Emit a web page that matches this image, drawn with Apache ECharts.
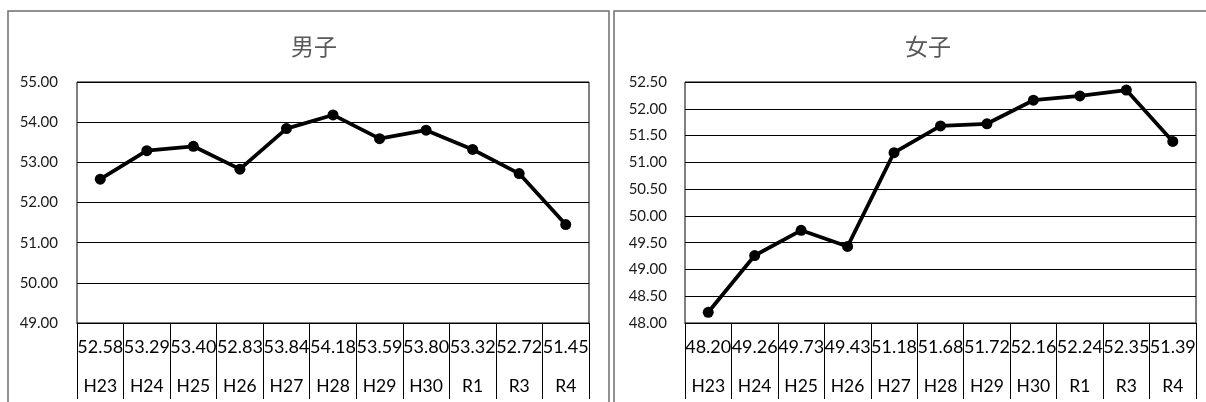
<!DOCTYPE html>
<html>
<head>
<meta charset="utf-8">
<script src="https://cdn.jsdelivr.net/npm/echarts@6/dist/echarts.min.js"></script>
<style>
html,body{margin:0;padding:0;background:#fff;}
#c{width:1206px;height:402px;}
</style>
</head>
<body>
<div id="c"></div>
<script>
// ---- data ----
const categories = ['H23','H24','H25','H26','H27','H28','H29','H30','R1','R3','R4'];
const boysValues = [52.58, 53.29, 53.40, 52.83, 53.84, 54.18, 53.59, 53.80, 53.32, 52.72, 51.45];
const girlsValues = [48.20, 49.26, 49.73, 49.43, 51.18, 51.68, 51.72, 52.16, 52.24, 52.35, 51.39];
const boysTitle = '男子';
const girlsTitle = '女子';
const boysAxis = {min: 49, max: 55, interval: 1};
const girlsAxis = {min: 48, max: 52.5, interval: 0.5};

const LAT = 'Lato, "Liberation Sans", sans-serif';
const CJK = '"Noto Sans CJK JP", "Noto Sans CJK SC", sans-serif';

function xAxisFor(gridIndex, values) {
  return {
    type: 'category',
    gridIndex: gridIndex,
    data: categories,
    boundaryGap: true,
    axisLine: {show: true, lineStyle: {color: '#000', width: 1}},
    axisTick: {show: true, interval: 0, length: 76, lineStyle: {color: '#000', width: 1}},
    axisLabel: {
      interval: 0,
      margin: 5,
      formatter: function (val, idx) {
        return '{v|' + values[idx].toFixed(2) + '}\n{c|' + val + '}';
      },
      rich: {
        v: {fontFamily: LAT, fontSize: 18, color: '#000', lineHeight: 38, align: 'center'},
        c: {fontFamily: LAT, fontSize: 17.5, color: '#000', lineHeight: 40, align: 'center'}
      }
    },
    splitLine: {show: false}
  };
}

function yAxisFor(gridIndex, ax, margin) {
  return {
    type: 'value',
    gridIndex: gridIndex,
    min: ax.min, max: ax.max, interval: ax.interval,
    axisLine: {show: false},
    axisTick: {show: false},
    axisLabel: {
      margin: margin,
      fontFamily: LAT, fontSize: 15, color: '#1a1a1a',
      formatter: function (v) { return v.toFixed(2); }
    },
    splitLine: {show: true, lineStyle: {color: '#000', width: 1}}
  };
}

function lineSeries(idx, values) {
  return {
    type: 'line',
    xAxisIndex: idx, yAxisIndex: idx,
    data: values,
    symbol: 'circle',
    symbolSize: 11,
    lineStyle: {color: '#000', width: 3.75},
    itemStyle: {color: '#000'},
    label: {show: false},
    z: 5
  };
}

const chart = echarts.init(document.getElementById('c'), null, {renderer: 'canvas'});
chart.setOption({
  animation: false,
  backgroundColor: '#fff',
  title: [
    {text: boysTitle, left: 309, top: 30, textAlign: 'center',
     textStyle: {fontFamily: CJK, fontSize: 23, fontWeight: 'normal', color: '#595959'}},
    {text: girlsTitle, left: 923, top: 30, textAlign: 'center',
     textStyle: {fontFamily: CJK, fontSize: 23, fontWeight: 'normal', color: '#595959'}}
  ],
  graphic: [
    {type: 'rect', shape: {x: 8, y: 11, width: 601, height: 420},
     style: {fill: 'none', stroke: '#6e6e6e', lineWidth: 1.5}, silent: true},
    {type: 'rect', shape: {x: 614, y: 11, width: 620, height: 420},
     style: {fill: 'none', stroke: '#6e6e6e', lineWidth: 1.5}, silent: true}
  ],
  grid: [
    {left: 77, top: 82, width: 512, height: 241, show: true, borderColor: '#000', borderWidth: 1, backgroundColor: 'transparent'},
    {left: 685, top: 82, width: 511, height: 241, show: true, borderColor: '#000', borderWidth: 1, backgroundColor: 'transparent'}
  ],
  xAxis: [xAxisFor(0, boysValues), xAxisFor(1, girlsValues)],
  yAxis: [yAxisFor(0, boysAxis, 19), yAxisFor(1, girlsAxis, 18)],
  series: [lineSeries(0, boysValues), lineSeries(1, girlsValues)]
});
</script>
</body>
</html>
